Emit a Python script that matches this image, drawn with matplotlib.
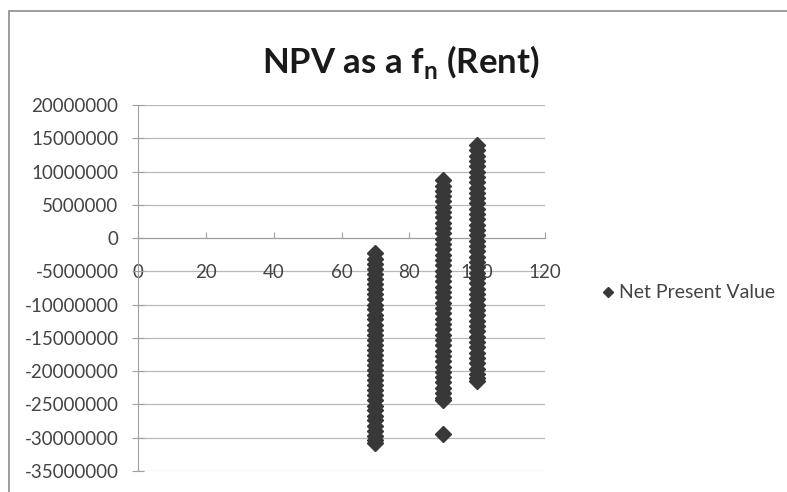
import matplotlib
matplotlib.use("Agg")
import matplotlib.pyplot as plt
from matplotlib.patches import Rectangle

plt.rcParams['font.family'] = ['Lato', 'DejaVu Sans']

# rent levels and NPV (millions)
rent_70 = [-2.3, -3.1, -3.9, -4.6, -5.4, -6.1, -6.9, -7.7, -8.4, -9.2, -10.0,
           -10.7, -11.5, -12.2, -13.0, -13.8, -14.5, -15.3, -16.0, -16.8, -17.6,
           -18.3, -19.1, -19.8, -20.6, -21.4, -22.1, -22.9, -23.6, -24.4, -25.2,
           -25.9, -26.7, -27.4, -28.2, -29.0, -29.7, -30.3, -30.8]
rent_90 = [8.7, 7.9, 7.1, 6.3, 5.5, 4.7, 3.9, 3.1, 2.3, 1.5, 0.7, -0.1, -0.9,
           -1.7, -2.5, -3.3, -4.1, -4.9, -5.7, -6.5, -7.3, -8.1, -8.9, -9.7,
           -10.5, -11.3, -12.1, -12.9, -13.7, -14.5, -15.3, -16.1, -16.9, -17.7,
           -18.5, -19.3, -20.1, -20.9, -21.7, -22.5, -23.3, -24.0, -24.4, -29.4]
rent_100 = [14.0, 13.2, 12.4, 11.6, 10.8, 10.0, 9.2, 8.4, 7.6, 6.8, 6.0, 5.2,
            4.4, 3.6, 2.8, 2.0, 1.2, 0.4, -0.4, -1.2, -2.0, -2.8, -3.6, -4.4,
            -5.2, -6.0, -6.8, -7.6, -8.4, -9.2, -10.0, -10.8, -11.6, -12.4,
            -13.2, -14.0, -14.8, -15.6, -16.4, -17.2, -18.0, -18.8, -19.6,
            -20.4, -21.0, -21.5]
groups = {70: rent_70, 90: rent_90, 100: rent_100}

x_ticks = [0, 20, 40, 60, 80, 100, 120]
y_ticks = list(range(-35000000, 20000001, 5000000))

xs, ys = [], []
for rent, vals in groups.items():
    for v in vals:
        xs.append(rent)
        ys.append(v * 1e6)

fig = plt.figure(figsize=(7.87, 4.92), dpi=100)
fig.patches.append(Rectangle((9 / 787, -0.1), 1.2, 1 - 11 / 492 + 0.1,
                             transform=fig.transFigure, fill=False,
                             edgecolor='#8c8c8c', lw=1.2))
ax = fig.add_axes([138 / 787, 1 - 471 / 492, (545 - 138) / 787, (471 - 105) / 492])

for y in y_ticks:
    ax.axhline(y, color='#b8b8b8', lw=0.9, zorder=0)

ax.plot(xs, ys, linestyle='none', marker='D', markersize=8, color='#383838',
        markeredgecolor='#383838', label='Net Present Value', zorder=3)

ax.set_xlim(0, 120)
ax.set_ylim(-35000000, 20000000)
ax.set_yticks(y_ticks)
ax.set_yticklabels([str(v) for v in y_ticks])
ax.set_xticks(x_ticks)
ax.set_xticklabels([str(v) for v in x_ticks])

for s in ['top', 'right']:
    ax.spines[s].set_visible(False)
ax.spines['bottom'].set_position(('data', 0))
ax.spines['left'].set_color('#a0a0a0')
ax.spines['bottom'].set_color('#a0a0a0')
ax.tick_params(axis='y', direction='inout', length=8, color='#a0a0a0',
               labelsize=13.5, labelcolor='#444444', pad=10)
ax.tick_params(axis='x', direction='in', length=4, color='#a0a0a0',
               labelsize=13.5, labelcolor='#444444', pad=19)

fig.text(401 / 787, 1 - 62 / 492, r'NPV as a f$_\mathregular{n}$ (Rent)',
         ha='center', va='center', fontsize=25, fontweight='bold', color='#1a1a1a')

ax.legend(loc='center left', bbox_to_anchor=(586 / 787, 1 - 293 / 492),
          bbox_transform=fig.transFigure, frameon=False, fontsize=14,
          handlelength=0.5, handletextpad=0.3, markerscale=0.6,
          labelcolor='#444444')

fig.savefig('out.png', dpi=100)
